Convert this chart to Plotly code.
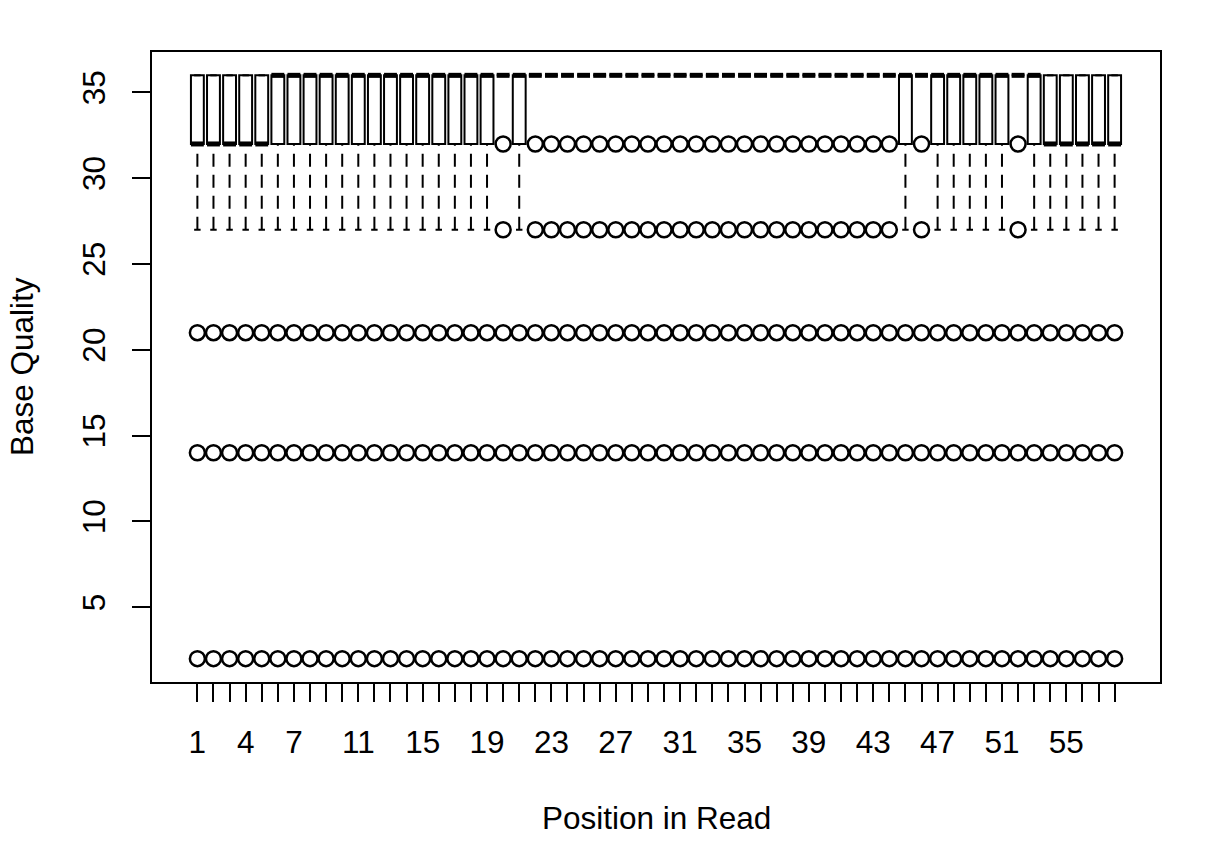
import plotly.graph_objects as go

# ---- data (Position in Read 1..58) ----
positions = list(range(1, 59))

q1 = [32, 32, 32, 32, 32, 32, 32, 32, 32, 32,
      32, 32, 32, 32, 32, 32, 32, 32, 32, 36,
      32, 36, 36, 36, 36, 36, 36, 36, 36, 36,
      36, 36, 36, 36, 36, 36, 36, 36, 36, 36,
      36, 36, 36, 36, 32, 36, 32, 32, 32, 32,
      32, 36, 32, 32, 32, 32, 32, 32]

median = [32, 32, 32, 32, 32, 36, 36, 36, 36, 36,
          36, 36, 36, 36, 36, 36, 36, 36, 36, 36,
          36, 36, 36, 36, 36, 36, 36, 36, 36, 36,
          36, 36, 36, 36, 36, 36, 36, 36, 36, 36,
          36, 36, 36, 36, 36, 36, 36, 36, 36, 36,
          36, 36, 36, 32, 32, 32, 32, 32]

q3 = [36, 36, 36, 36, 36, 36, 36, 36, 36, 36,
      36, 36, 36, 36, 36, 36, 36, 36, 36, 36,
      36, 36, 36, 36, 36, 36, 36, 36, 36, 36,
      36, 36, 36, 36, 36, 36, 36, 36, 36, 36,
      36, 36, 36, 36, 36, 36, 36, 36, 36, 36,
      36, 36, 36, 36, 36, 36, 36, 36]

lower_whisker = [27, 27, 27, 27, 27, 27, 27, 27, 27, 27,
                 27, 27, 27, 27, 27, 27, 27, 27, 27, 36,
                 27, 36, 36, 36, 36, 36, 36, 36, 36, 36,
                 36, 36, 36, 36, 36, 36, 36, 36, 36, 36,
                 36, 36, 36, 36, 27, 36, 27, 27, 27, 27,
                 27, 36, 27, 27, 27, 27, 27, 27]

upper_whisker = q3

# outliers present at every position
common_outliers = [21, 14, 2]
# extra outliers at the positions whose box collapses to 36
extra_outlier_positions = [20, 22, 23, 24, 25, 26, 27, 28, 29, 30, 31, 32, 33,
                           34, 35, 36, 37, 38, 39, 40, 41, 42, 43, 44, 46, 52]
extra_outliers = [32, 27]

x_labels_shown = [1, 4, 7, 11, 15, 19, 23, 27, 31, 35, 39, 43, 47, 51, 55]
y_ticks = [5, 10, 15, 20, 25, 30, 35]

# ---- styling ----
FONT = "Liberation Sans, Arial, Helvetica, sans-serif"
FS = 31.5
BOXW = 0.8
STAPLE = 0.4
LW = 2

fig = go.Figure()

# boxes (no whiskers: fences set equal to the hinges)
fig.add_trace(go.Box(
    x=positions, q1=q1, median=median, q3=q3,
    lowerfence=q1, upperfence=q3,
    width=BOXW, boxpoints=False,
    line=dict(color="black", width=LW), fillcolor="white",
    whiskerwidth=0, showlegend=False, hoverinfo="skip",
))

# dashed whiskers
wx, wy = [], []
for p, lo, a, b, hi in zip(positions, lower_whisker, q1, q3, upper_whisker):
    if lo < a:
        wx += [p, p, None]
        wy += [lo, a, None]
    if hi > b:
        wx += [p, p, None]
        wy += [hi, b, None]
fig.add_trace(go.Scatter(x=wx, y=wy, mode="lines",
                         line=dict(color="black", width=LW, dash="13px,8px"),
                         showlegend=False, hoverinfo="skip"))

# staples
sx, sy = [], []
for p, lo, hi in zip(positions, lower_whisker, upper_whisker):
    for v in (lo, hi):
        sx += [p - STAPLE / 2, p + STAPLE / 2, None]
        sy += [v, v, None]
fig.add_trace(go.Scatter(x=sx, y=sy, mode="lines",
                         line=dict(color="black", width=LW),
                         showlegend=False, hoverinfo="skip"))

# thick medians
mx, my = [], []
for p, m in zip(positions, median):
    mx += [p - BOXW / 2, p + BOXW / 2, None]
    my += [m, m, None]
fig.add_trace(go.Scatter(x=mx, y=my, mode="lines",
                         line=dict(color="black", width=5),
                         showlegend=False, hoverinfo="skip"))

# outliers
ox, oy = [], []
for p in positions:
    vals = list(common_outliers)
    if p in extra_outlier_positions:
        vals = extra_outliers + vals
    for v in vals:
        ox.append(p)
        oy.append(v)
fig.add_trace(go.Scatter(x=ox, y=oy, mode="markers",
                         marker=dict(symbol="circle-open", size=15, color="black",
                                     line=dict(color="black", width=2.5)),
                         showlegend=False, hoverinfo="skip"))

n = len(positions)
xr = [0.5 - 0.04 * n, n + 0.5 + 0.04 * n]
ymin, ymax = 2, 36
pad = 0.04 * (ymax - ymin)
yr = [ymin - pad, ymax + pad]

fig.update_layout(
    width=1230, height=846,
    margin=dict(l=152, r=70, t=52, b=164),
    paper_bgcolor="white", plot_bgcolor="white",
    font=dict(family=FONT, size=FS, color="black"),
    xaxis=dict(range=xr, tickmode="array", tickvals=positions,
               ticktext=[str(p) if p in x_labels_shown else "" for p in positions],
               ticks="outside", ticklen=18, tickwidth=1.5, tickcolor="black",
               showline=True, mirror=True, linecolor="black", linewidth=1.5,
               showgrid=False, zeroline=False, ticklabelstandoff=13,
               tickfont=dict(family=FONT, size=FS, color="black")),
    yaxis=dict(range=yr, tickmode="array", tickvals=y_ticks,
               ticktext=[str(v) for v in y_ticks], tickangle=-90,
               ticks="outside", ticklen=18, tickwidth=1.5, tickcolor="black",
               showline=True, mirror=True, linecolor="black", linewidth=1.5,
               showgrid=False, zeroline=False, ticklabelstandoff=15,
               tickfont=dict(family=FONT, size=FS, color="black")),
    annotations=[
        dict(text="Position in Read", xref="paper", yref="paper", x=0.5, y=0,
             xanchor="center", yanchor="middle", yshift=-136, showarrow=False,
             font=dict(family=FONT, size=FS, color="black")),
        dict(text="Base Quality", xref="paper", yref="paper", x=0, y=0.5,
             xanchor="center", yanchor="middle", xshift=-130, textangle=-90,
             showarrow=False, font=dict(family=FONT, size=FS, color="black")),
    ],
)

fig.write_html("out.html")
